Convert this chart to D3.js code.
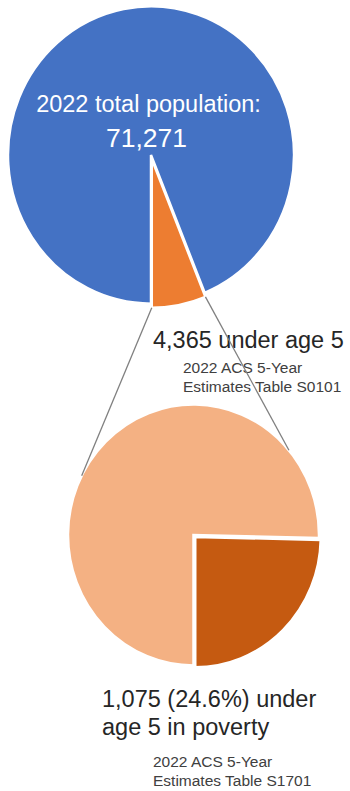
<!DOCTYPE html>
<html>
<head>
<meta charset="utf-8">
<script src="https://cdn.jsdelivr.net/npm/d3@7"></script>
<style>
  html, body { margin: 0; padding: 0; background: #fff; }
  svg { display: block; font-family: Arial, "Liberation Sans", sans-serif; }
</style>
</head>
<body>
<div id="chart"></div>
<script>
'use strict';

// values
var topNames = ['Age 5 and over', 'Under age 5'];
var topValues = [66906, 4365];          // total 71,271
var bottomNames = ['Under 5, not in poverty', 'Under 5 in poverty'];
var bottomValues = [3290, 1075];        // total 4,365
var sourceTop = ['2022 ACS 5-Year', 'Estimates Table S0101'];
var sourceBottom = ['2022 ACS 5-Year', 'Estimates Table S1701'];

var width = 350;
var height = 791;
var fmt = d3.format(',');
var stretchY = 1.04; // the picture is a bit taller than round

var svg = d3.select('#chart').append('svg')
  .attr('width', width)
  .attr('height', height);

var pie = d3.pie().sort(null).startAngle(Math.PI).endAngle(3 * Math.PI);

// one pie: centre, radius, colours, how far the small slice pops out
function drawPie(values, names, cx, cy, r, colors, pop) {
  var arcs = pie(values);
  var arc = d3.arc().innerRadius(0).outerRadius(r);
  var g = svg.append('g')
    .attr('transform', 'translate(' + cx + ',' + cy + ') scale(1,' + stretchY + ')');

  g.selectAll('path').data(arcs).enter().append('path')
    .attr('d', arc)
    .attr('fill', function(d, i){ return colors[i]; })
    .attr('stroke', '#fff')
    .attr('stroke-width', 2.5)
    .attr('transform', function(d, i){
      if (i === 0) return null;
      var mid = (d.startAngle + d.endAngle) / 2;
      return 'translate(' + pop * Math.sin(mid) + ',' + (-pop * Math.cos(mid)) + ')';
    })
    .append('title').text(function(d, i){ return names[i] + ': ' + fmt(d.value); });

  // helper to find a point on the rim (page coords)
  function rim(angle, shift) {
    var sx = shift ? shift[0] : 0, sy = shift ? shift[1] : 0;
    return [cx + sx + r * Math.sin(angle), cy + (sy - r * Math.cos(angle)) * stretchY];
  }
  return { arcs: arcs, rim: rim, pop: pop };
}

var topPie = drawPie(topValues, topNames, 151, 155, 143, ['#4472c4', '#ed7d31'], 4);
var bottomPie = drawPie(bottomValues, bottomNames, 193.5, 535, 125.5, ['#f4b183', '#c55a11'], 2.5);

// labels
svg.append('text')
  .attr('x', 148.5).attr('y', 112)
  .attr('text-anchor', 'middle')
  .attr('fill', '#fff')
  .style('font-size', '23.5px')
  .text('2022 total population:');

svg.append('text')
  .attr('x', 146.5).attr('y', 147)
  .attr('text-anchor', 'middle')
  .attr('fill', '#fff')
  .style('font-size', '26.5px')
  .text(fmt(d3.sum(topValues)));

svg.append('text')
  .attr('x', 153).attr('y', 348)
  .attr('fill', '#262626')
  .style('font-size', '23.5px')
  .text(fmt(topValues[1]) + ' under age 5');

svg.append('g').selectAll('text').data(sourceTop).enter().append('text')
  .attr('x', 183)
  .attr('y', function(d, i){ return 373 + i * 18.5; })
  .attr('fill', '#404040')
  .style('font-size', '15.5px')
  .text(function(d){ return d; });

var share = bottomValues[1] / d3.sum(bottomValues);
var povertyLines = [fmt(bottomValues[1]) + ' (' + d3.format('.1%')(share) + ') under', 'age 5 in poverty'];
svg.append('g').selectAll('text').data(povertyLines).enter().append('text')
  .attr('x', 102)
  .attr('y', function(d, i){ return 707 + i * 28; })
  .attr('fill', '#262626')
  .style('font-size', '23.5px')
  .text(function(d){ return d; });

svg.append('g').selectAll('text').data(sourceBottom).enter().append('text')
  .attr('x', 153)
  .attr('y', function(d, i){ return 766.5 + i * 19.5; })
  .attr('fill', '#404040')
  .style('font-size', '15.5px')
  .text(function(d){ return d; });

// connector lines from the small top slice to the bottom pie, drawn over the text
var small = topPie.arcs[1];
var mid = (small.startAngle + small.endAngle) / 2;
var shift = [topPie.pop * Math.sin(mid), -topPie.pop * Math.cos(mid)];
var deg = Math.PI / 180;
var links = [
  [topPie.rim(small.endAngle, shift), bottomPie.rim(-63 * deg)],
  [topPie.rim(small.startAngle, shift), bottomPie.rim(49.5 * deg)]
];

svg.append('g').selectAll('line').data(links).enter().append('line')
  .attr('x1', function(d){ return d[0][0]; })
  .attr('y1', function(d){ return d[0][1]; })
  .attr('x2', function(d){ return d[1][0]; })
  .attr('y2', function(d){ return d[1][1]; })
  .attr('stroke', '#808080')
  .attr('stroke-width', 1.3);
</script>
</body>
</html>
